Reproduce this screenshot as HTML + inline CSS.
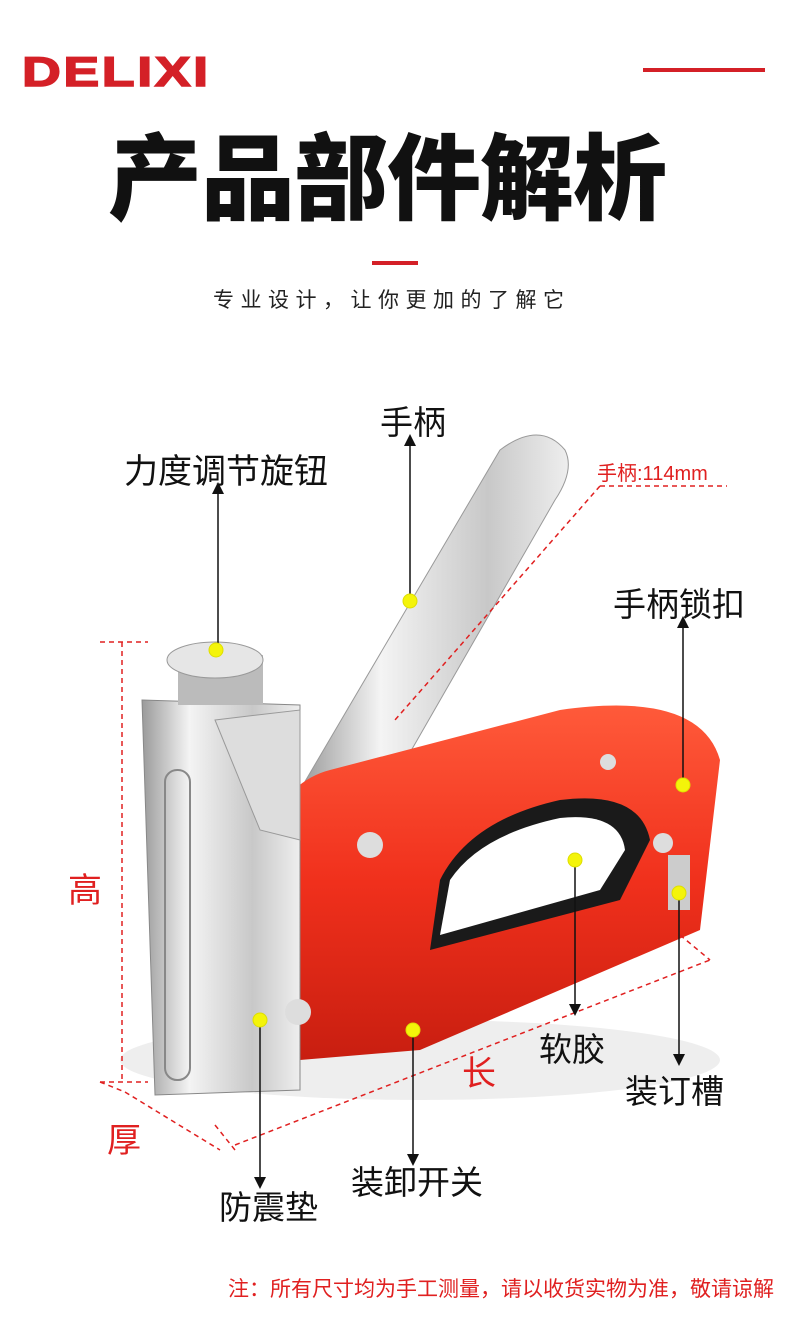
<!DOCTYPE html>
<html><head><meta charset="utf-8"><style>
body{margin:0;background:#fff;}
.w{position:relative;width:790px;height:1333px;overflow:hidden;font-family:"Liberation Sans","Noto Sans CJK SC",sans-serif;}
.t{position:absolute;white-space:nowrap;}
</style></head><body><div class="w">
<div class="t" style="left:22px;top:48px;font-size:42px;font-weight:900;color:#d42027;letter-spacing:2px;font-family:'Liberation Sans',sans-serif;transform:scaleX(1.28);transform-origin:left top;-webkit-text-stroke:1.5px #d42027">DELIXI</div>
<div style="position:absolute;left:643px;top:68px;width:122px;height:4px;background:#d42027"></div>
<div class="t" style="left:108px;top:104px;font-size:94px;font-weight:900;color:#111;font-family:'Noto Sans CJK SC',sans-serif;letter-spacing:-1px">产品部件解析</div>
<div style="position:absolute;left:372px;top:261px;width:46px;height:4px;background:#d42027"></div>
<div class="t" style="left:213px;top:284px;font-size:21px;color:#222;letter-spacing:6.5px">专业设计，让你更加的了解它</div>

<svg style="position:absolute;left:0;top:0" width="790" height="1333">
<defs>
<linearGradient id="s" x1="0" x2="1"><stop offset="0" stop-color="#9a9a9a"/><stop offset=".3" stop-color="#f4f4f4"/><stop offset=".7" stop-color="#c8c8c8"/><stop offset="1" stop-color="#eee"/></linearGradient>
<linearGradient id="r" x1="0" x2="0" y1="0" y2="1"><stop offset="0" stop-color="#ff5a3a"/><stop offset=".5" stop-color="#f0301c"/><stop offset="1" stop-color="#c81e10"/></linearGradient>
<marker id="a" markerWidth="8" markerHeight="8" refX="4" refY="4" orient="auto"><path d="M0,0L8,4L0,8z" fill="#111"/></marker>
</defs>
<ellipse cx="420" cy="1060" rx="300" ry="40" fill="#eee"/>
<path d="M300,790 L500,450 Q540,420 565,450 Q575,470 555,500 L400,770 L330,810z" fill="url(#s)" stroke="#999"/>
<path d="M265,830 Q290,780 330,770 L560,710 Q700,690 720,760 L700,930 L420,1050 L300,1060 L265,1000z" fill="url(#r)"/>
<path d="M440,880 Q470,820 560,800 Q640,790 650,840 L620,900 L430,950z" fill="#1a1a1a"/>
<path d="M450,880 Q480,835 560,818 Q620,812 625,850 L600,890 L440,935z" fill="#fff"/>
<path d="M142,700 L300,705 L300,1090 L155,1095z" fill="url(#s)" stroke="#888"/>
<path d="M215,720 L300,710 L300,840 L260,830z" fill="#ddd" stroke="#999"/>
<rect x="165" y="770" width="25" height="310" rx="12" fill="none" stroke="#888" stroke-width="2"/>
<rect x="178" y="655" width="85" height="50" fill="#bbb"/>
<ellipse cx="215" cy="660" rx="48" ry="18" fill="#e6e6e6" stroke="#999"/>
<circle cx="370" cy="845" r="13" fill="#ddd"/><circle cx="283" cy="815" r="13" fill="#ddd"/><circle cx="298" cy="1012" r="13" fill="#ddd"/>
<circle cx="608" cy="762" r="8" fill="#ddd"/><circle cx="663" cy="843" r="10" fill="#ddd"/>
<rect x="668" y="855" width="22" height="55" fill="#ccc"/>
<g stroke="#e02020" stroke-width="1.5" stroke-dasharray="5,4" fill="none">
<path d="M600,486 L727,486 M600,486 L395,720"/>
<path d="M100,642 L148,642 M122,642 L122,1082 M100,1082 L148,1082"/>
<path d="M125,1092 L220,1150 M100,1082 L125,1092 M215,1125 L235,1150"/>
<path d="M235,1145 L710,960 M680,935 L710,960"/>
</g>
<g stroke="#111" stroke-width="1.5" marker-end="url(#a)">
<line x1="410" y1="600" x2="410" y2="440"/>
<line x1="218" y1="650" x2="218" y2="488"/>
<line x1="683" y1="785" x2="683" y2="622"/>
<line x1="575" y1="860" x2="575" y2="1010"/>
<line x1="679" y1="893" x2="679" y2="1060"/>
<line x1="413" y1="1030" x2="413" y2="1160"/>
<line x1="260" y1="1020" x2="260" y2="1183"/>
</g>
<g fill="#f4f40a" stroke="#dede00">
<circle cx="410" cy="601" r="7"/><circle cx="216" cy="650" r="7"/><circle cx="683" cy="785" r="7"/><circle cx="575" cy="860" r="7"/><circle cx="679" cy="893" r="7"/><circle cx="413" cy="1030" r="7"/><circle cx="260" cy="1020" r="7"/>
</g>
</svg>

<div class="t" style="left:380px;top:396px;font-size:33px;color:#111">手柄</div>
<div class="t" style="left:124px;top:444px;font-size:34px;color:#111">力度调节旋钮</div>
<div class="t" style="left:597px;top:457px;font-size:20px;color:#e02020">手柄:114mm</div>
<div class="t" style="left:613px;top:578px;font-size:33px;color:#111">手柄锁扣</div>
<div class="t" style="left:539px;top:1023px;font-size:33px;color:#111">软胶</div>
<div class="t" style="left:625px;top:1065px;font-size:33px;color:#111">装订槽</div>
<div class="t" style="left:351px;top:1156px;font-size:33px;color:#111">装卸开关</div>
<div class="t" style="left:219px;top:1181px;font-size:33px;color:#111">防震垫</div>
<div class="t" style="left:68px;top:863px;font-size:34px;color:#e02020">高</div>
<div class="t" style="left:107px;top:1113px;font-size:34px;color:#e02020">厚</div>
<div class="t" style="left:462px;top:1046px;font-size:34px;color:#e02020">长</div>
<div class="t" style="left:228px;top:1273px;font-size:21px;color:#e02020">注：所有尺寸均为手工测量，请以收货实物为准，敬请谅解</div>
</div></body></html>
